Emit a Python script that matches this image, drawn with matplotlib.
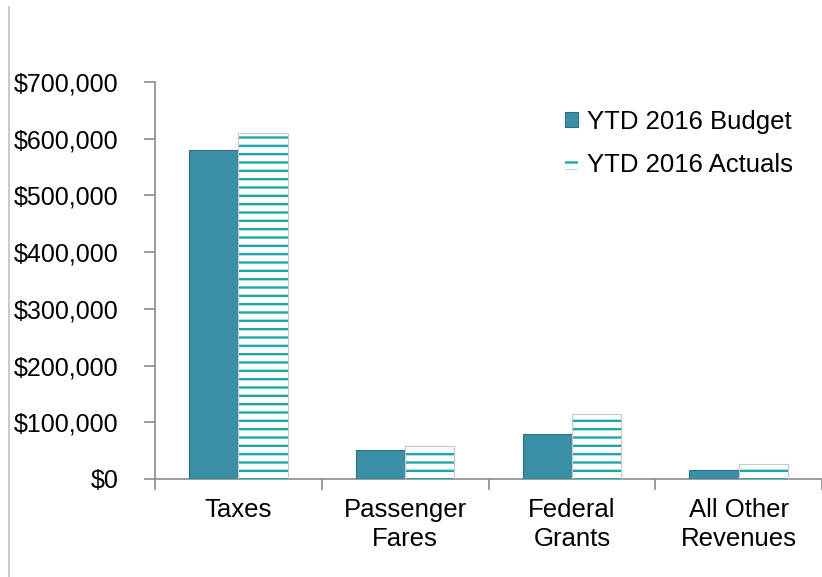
import numpy as np
import matplotlib.pyplot as plt
from matplotlib.lines import Line2D
from matplotlib.ticker import FuncFormatter

plt.rcParams['font.family'] = ['Liberation Sans', 'DejaVu Sans']
plt.rcParams['hatch.linewidth'] = 1.7

categories = ['Taxes', 'Passenger\nFares', 'Federal\nGrants', 'All Other\nRevenues']
budget = [580000, 51000, 79000, 16000]
actuals = [610000, 58000, 115000, 26000]

budget_color = '#3a8ea6'
stripe_color = '#1aa8a8'
axis_color = '#8c8c8c'

fig = plt.figure(figsize=(8.22, 5.77), dpi=100)
ax = fig.add_axes([155 / 822, (577 - 479) / 577, (822 - 155) / 822, (479 - 82) / 577])

x = np.arange(len(categories))
w = 0.295
ax.bar(x - w / 2, budget, w, color=budget_color, edgecolor='#2b6f82', linewidth=0.8,
       label='YTD 2016 Budget', zorder=3)
ax.bar(x + w / 2, actuals, w, color='white', edgecolor=stripe_color, hatch='--',
       linewidth=0, label='YTD 2016 Actuals', zorder=3)
# grey outline of the striped bars
ax.bar(x + w / 2, actuals, w, color='none', edgecolor='#c8c8c8', linewidth=0.8, zorder=4)

ax.set_ylim(0, 700000)
ax.set_yticks(np.arange(0, 700001, 100000))
ax.yaxis.set_major_formatter(FuncFormatter(lambda v, p: f'${v:,.0f}'))
ax.set_xlim(-0.5, -0.5 + (822 - 155) / 170)
ax.set_xticks(np.arange(-0.5, 4, 1.0))
ax.set_xticklabels([])
ax.set_xticks(x, minor=True)
ax.set_xticklabels(categories, minor=True, fontsize=18.5, linespacing=1.25)
ax.tick_params(axis='x', which='minor', length=0, pad=14)
ax.tick_params(axis='x', which='major', length=8, color=axis_color, width=1.2)
ax.tick_params(axis='y', length=8, color=axis_color, width=1.2, labelsize=18, pad=18)

for s in ['top', 'right']:
    ax.spines[s].set_visible(False)
for s in ['left', 'bottom']:
    ax.spines[s].set_color(axis_color)
    ax.spines[s].set_linewidth(1.2)

ax.legend(loc='upper left', bbox_to_anchor=(0.615, 0.93), frameon=False, fontsize=18.5,
          borderaxespad=0, borderpad=0,
          handlelength=0.5, handleheight=0.5, handletextpad=0.35, labelspacing=0.75)

# left frame line
fig.add_artist(Line2D([9 / 822, 9 / 822], [0, 1 - 7 / 577], color='#c0c0c0', linewidth=1.2))

fig.savefig('out.png', dpi=100)
